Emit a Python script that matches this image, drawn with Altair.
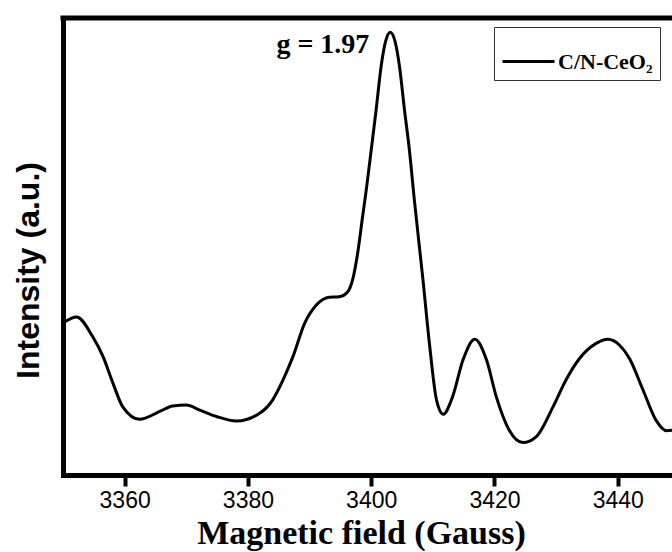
import altair as alt
import pandas as pd

# Magnetic field (Gauss) and EPR intensity (a.u.)
field = [3350.0, 3352.2, 3354.8, 3356.5, 3358.1, 3359.7, 3362.4, 3365.7, 3367.8, 3370.0,
         3372.2, 3374.9, 3378.1, 3381.9, 3384.0, 3385.7, 3387.3, 3389.2, 3391.1, 3393.2,
         3394.8, 3396.2, 3397.0, 3397.8, 3398.6, 3399.2, 3400.0, 3400.8, 3401.6, 3402.3,
         3403.1, 3403.9, 3404.6, 3405.4, 3406.2, 3407.0, 3408.4, 3409.5, 3410.6, 3411.7,
         3413.2, 3414.9, 3416.8, 3418.7, 3420.3, 3422.4, 3424.6, 3426.8, 3429.5, 3431.6,
         3433.8, 3436.5, 3438.4, 3440.3, 3441.9, 3444.1, 3446.2, 3447.9, 3448.8]
intensity = [33.3, 34.6, 30.3, 25.9, 20.1, 14.9, 12.2, 13.9, 15.1, 15.3,
             14.2, 12.8, 11.8, 13.5, 16.4, 20.8, 25.9, 33.2, 37.2, 38.9,
             39.0, 40.1, 42.8, 48.5, 56.5, 62.4, 71.1, 79.9, 89.3, 94.7,
             96.9, 94.7, 89.3, 79.9, 71.1, 60.2, 42.7, 28.1, 16.4, 13.3,
             17.1, 25.2, 29.7, 25.2, 17.1, 9.8, 7.1, 8.4, 14.9, 20.8,
             25.5, 28.8, 29.7, 28.4, 25.5, 18.6, 12.0, 9.7, 9.8]
series_name = "C/N-CeO\u2082"

x_ticks = [3360, 3380, 3400, 3420, 3440]
x_domain = [3350, 3448.8]
y_domain = [0, 100]

ann_x = [3399.7]
ann_y = [92.3]
ann_text = ["g = 1.97"]

df = pd.DataFrame({"field": field, "intensity": intensity, "series": series_name})
ann = pd.DataFrame({"field": ann_x, "intensity": ann_y, "label": ann_text})

W, H = 609, 457

xscale = alt.Scale(domain=x_domain, nice=False, zero=False)
yscale = alt.Scale(domain=y_domain, nice=False, zero=False)

line = alt.Chart(df).mark_line(interpolate="monotone", strokeWidth=3, clip=True).encode(
    x=alt.X("field:Q", scale=xscale,
            axis=alt.Axis(title="Magnetic field (Gauss)", values=x_ticks, format="d",
                          grid=False, domainColor="black", domainWidth=5, domainCap="square",
                          tickColor="black", tickWidth=4, tickSize=11,
                          labelFont="Liberation Sans", labelFontSize=23, labelColor="black",
                          labelPadding=3, labelBaseline="top",
                          titleFont="Liberation Serif", titleFontWeight="bold",
                          titleFontSize=34, titleColor="black",
                          titleX=298, titleY=68, titleBaseline="alphabetic",
                          titleAnchor="start", titleAlign="center")),
    y=alt.Y("intensity:Q", scale=yscale,
            axis=alt.Axis(title="Intensity (a.u.)", ticks=False, labels=False, grid=False,
                          domainColor="black", domainWidth=5, domainCap="square",
                          titleFont="Liberation Sans", titleFontWeight="bold",
                          titleFontSize=32, titleColor="black", titleAngle=270,
                          titleX=-25, titleY=252, titleAlign="center",
                          titleBaseline="alphabetic")),
    color=alt.Color("series:N", scale=alt.Scale(range=["black"]),
                    legend=alt.Legend(title=None, orient="none", legendX=431, legendY=9,
                                      symbolType="stroke", symbolStrokeWidth=3,
                                      symbolSize=2704, strokeColor="#333333",
                                      fillColor="white", padding=7, labelOffset=2,
                                      labelFont="Liberation Serif", labelFontWeight="bold",
                                      labelFontSize=22, labelColor="black", labelLimit=300,
                                      symbolStrokeColor="black")),
)

top_border = alt.Chart(pd.DataFrame({"v": [0]})).mark_rule(
    color="black", strokeWidth=5, strokeCap="square"
).encode(y=alt.value(0), x=alt.value(0), x2=alt.value(W))

text = alt.Chart(ann).mark_text(
    font="Liberation Serif", fontWeight="bold", fontSize=28, color="black",
    align="right", baseline="alphabetic"
).encode(x=alt.X("field:Q", scale=xscale), y=alt.Y("intensity:Q", scale=yscale), text="label:N")

chart = alt.layer(line, text, top_border).properties(
    width=W, height=H,
    autosize=alt.AutoSizeParams(type="none"),
    padding={"left": 63, "top": 18, "right": 0, "bottom": 77},
).configure_view(stroke=None).configure(background="white")

chart.save("out.html", embed_options={"renderer": "svg", "actions": False})
